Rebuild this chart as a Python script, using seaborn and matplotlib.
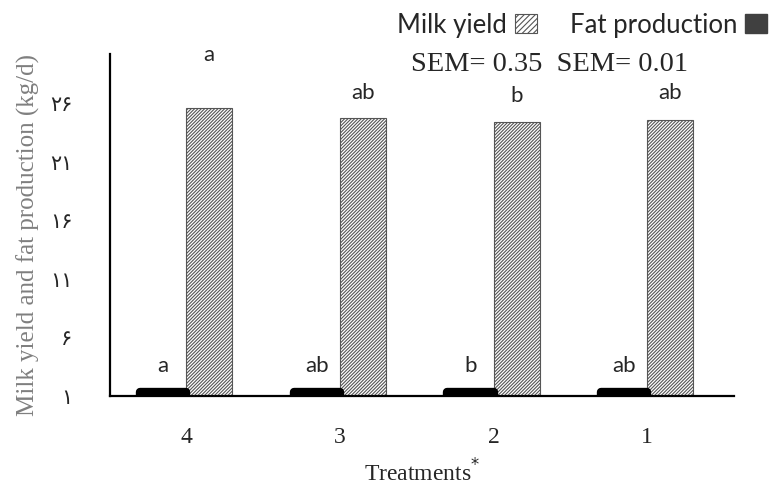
import matplotlib
matplotlib.use("Agg")
import matplotlib.pyplot as plt
import matplotlib.patches as mpatches
import pandas as pd
import seaborn as sns

# values
treatments = ["4", "3", "2", "1"]
milk_yield = [25.6, 24.7, 24.4, 24.6]
fat_production = [1.3, 1.3, 1.3, 1.3]
milk_letters = ["a", "ab", "b", "ab"]
fat_letters = ["a", "ab", "b", "ab"]
milk_letter_y = [30.1, 26.9, 26.6, 26.9]
fat_letter_y = [3.6, 3.6, 3.6, 3.6]
y_ticks = [1, 6, 11, 16, 21, 26]
y_tick_labels = ["۱", "۶", "۱۱", "۱۶", "۲۱", "۲۶"]

df = pd.DataFrame({
    "treatment": treatments * 2,
    "measure": ["Fat production"] * 4 + ["Milk yield"] * 4,
    "value": fat_production + milk_yield,
})

sns.set_style("white")
plt.rcParams["hatch.linewidth"] = 0.8
serif = ["Liberation Serif", "DejaVu Serif"]
sans = ["Lato", "DejaVu Sans"]

fig = plt.figure(figsize=(7.72, 4.99), dpi=100)
ax = fig.add_axes([0.1425, 0.2064, 0.8085, 0.6856])

sns.barplot(data=df, x="treatment", y="value", hue="measure", order=treatments,
            hue_order=["Fat production", "Milk yield"], width=0.6, ax=ax,
            palette=["black", "white"], legend=False, saturation=1)

bars = ax.patches
for b in bars[:4]:
    b.set_facecolor("black")
    b.set_edgecolor("black")
    b.set_linewidth(6)
    b.set_joinstyle("round")
    b.set_zorder(3)
for b in bars[4:8]:
    b.set_facecolor("white")
    b.set_edgecolor("#555555")
    b.set_linewidth(0.8)
    b.set_hatch("//////////")

ax.set_ylim(1, 30.2)
ax.set_xlim(-0.495, 3.565)
ax.set_yticks(y_ticks)
ax.set_yticklabels(y_tick_labels, fontsize=15, family=["DejaVu Sans"])
ax.set_xticks(range(4))
ax.set_xticklabels(treatments, fontsize=17, family=serif)
ax.tick_params(axis="y", length=0, pad=27)
ax.tick_params(axis="x", length=0, pad=22)

for s in ["top", "right"]:
    ax.spines[s].set_visible(False)
for s in ["left", "bottom"]:
    ax.spines[s].set_color("black")
    ax.spines[s].set_linewidth(1.6)

ax.set_ylabel("Milk yield and fat production (kg/d)", fontsize=18, family=serif,
              color="#7f7f7f")
ax.set_xlabel("Treatments$^{*}$", fontsize=17, family=serif)
ax.yaxis.set_label_coords(-0.112, 0.47)
ax.xaxis.set_label_coords(0.5, -0.185)

for i in range(4):
    ax.text(i + 0.15, milk_letter_y[i], milk_letters[i], ha="center", va="center",
            fontsize=16, family=sans)
    ax.text(i - 0.15, fat_letter_y[i], fat_letters[i], ha="center", va="center",
            fontsize=16, family=sans)

fig.text(0.533, 0.870, "SEM= 0.35  SEM= 0.01", fontsize=20.5, family=serif,
         va="center", ha="left")

handles = [mpatches.Patch(facecolor="white", edgecolor="#555555", hatch="//////", linewidth=0.8),
           mpatches.Patch(facecolor="#404040", edgecolor="#404040")]
fig.legend(handles, ["Milk yield", "Fat production"], loc="upper right",
           bbox_to_anchor=(0.997, 0.98), ncol=2, frameon=False, markerfirst=False,
           prop={"family": sans, "size": 18.5}, handlelength=0.85, handleheight=0.8,
           handletextpad=0.3, columnspacing=1.3, borderaxespad=0, borderpad=0.1)

fig.savefig("out.png", dpi=100)
